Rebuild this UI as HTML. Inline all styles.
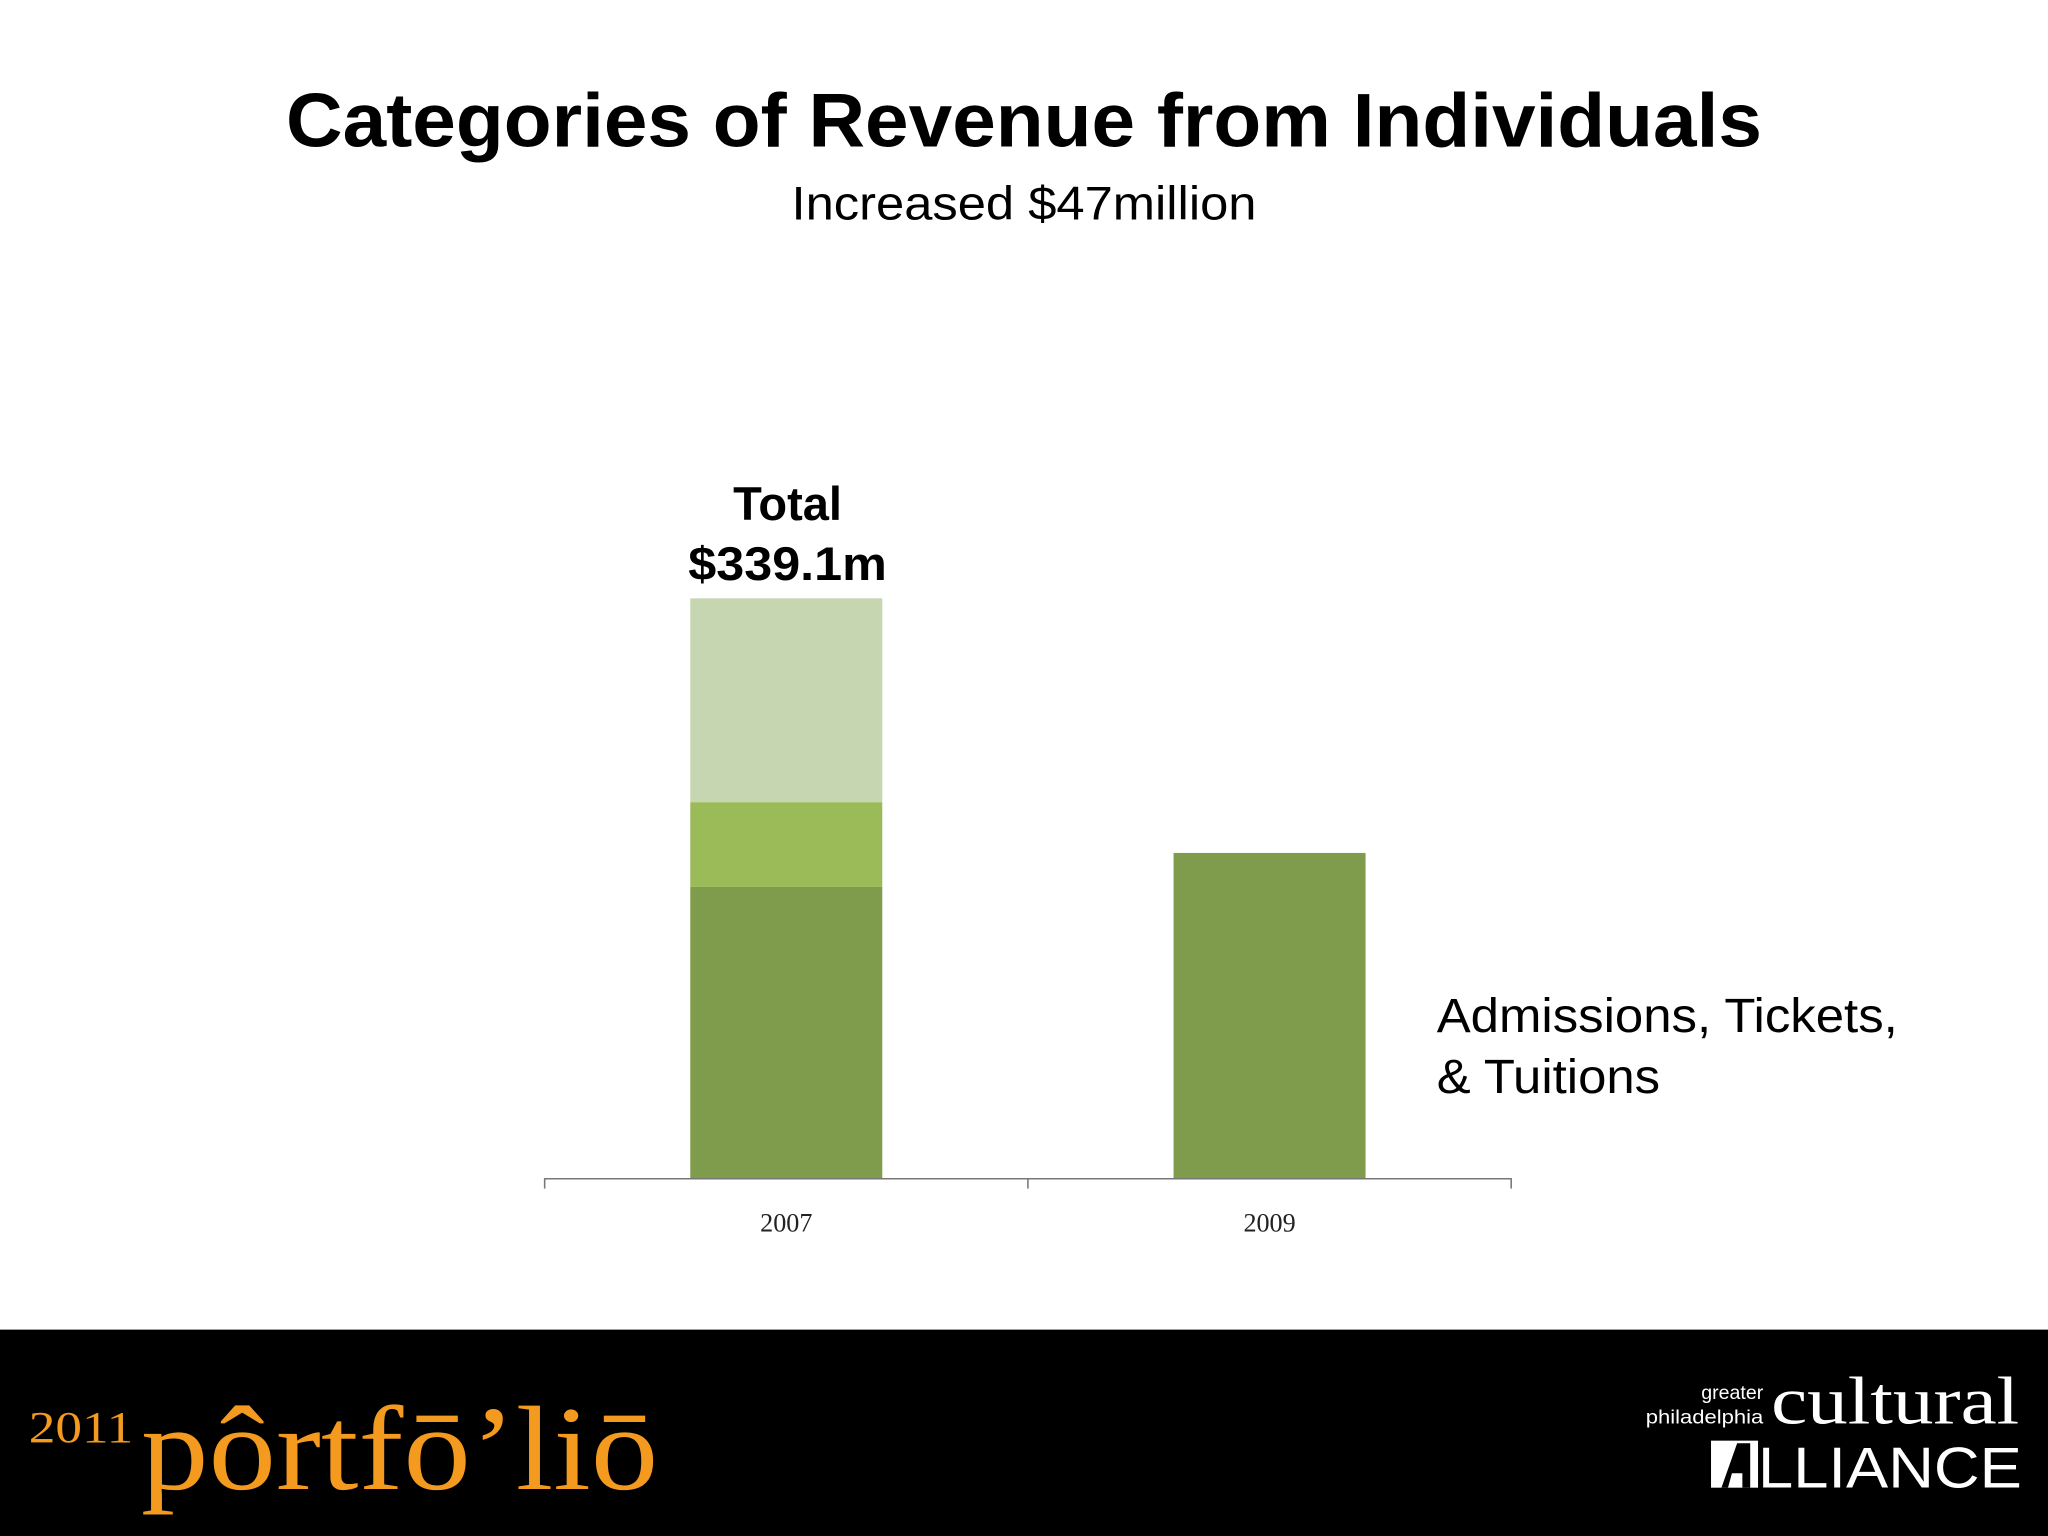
<!DOCTYPE html>
<html><head><meta charset="utf-8"><style>
html,body{margin:0;padding:0;background:#fff;}
svg{display:block;}
</style></head><body>
<svg id="chart" width="2048" height="1536" viewBox="0 0 1568 1176" xmlns="http://www.w3.org/2000/svg">
<rect x="0" y="0" width="1568" height="1176" fill="#fff"/>
<text x="784" y="112" text-anchor="middle" font-family="'Liberation Sans',sans-serif" font-weight="bold" font-size="58" textLength="1130" lengthAdjust="spacingAndGlyphs" fill="#000">Categories of Revenue from Individuals</text>
<text x="784" y="168" text-anchor="middle" font-family="'Liberation Sans',sans-serif" font-size="36" textLength="356" lengthAdjust="spacingAndGlyphs" fill="#000">Increased $47million</text>
<g id="plot"></g>
<text x="603" y="398" text-anchor="middle" font-family="'Liberation Sans',sans-serif" font-weight="bold" font-size="36" fill="#000">Total</text>
<text x="603" y="444" text-anchor="middle" font-family="'Liberation Sans',sans-serif" font-weight="bold" font-size="36" textLength="152" lengthAdjust="spacingAndGlyphs" fill="#000">$339.1m</text>
<text x="1100" y="790" font-family="'Liberation Sans',sans-serif" font-size="37" textLength="353" lengthAdjust="spacingAndGlyphs" fill="#000">Admissions, Tickets,</text>
<text x="1100" y="837" font-family="'Liberation Sans',sans-serif" font-size="37" textLength="171" lengthAdjust="spacingAndGlyphs" fill="#000">&amp; Tuitions</text>
<rect x="0" y="1018" width="1568" height="158" fill="#000"/>
<g fill="#f39a1f" font-family="'Liberation Serif',serif">
<text x="22" y="1104" font-size="34" textLength="80" lengthAdjust="spacingAndGlyphs">2011</text>
<text x="108" y="1140" font-size="92" textLength="396" lengthAdjust="spacingAndGlyphs">pôrtfō’liō</text>
</g>
<g fill="#fff">
<text x="1350" y="1071" text-anchor="end" font-family="'Liberation Sans',sans-serif" font-size="15">greater</text>
<text x="1350" y="1090" text-anchor="end" font-family="'Liberation Sans',sans-serif" font-size="15" textLength="90" lengthAdjust="spacingAndGlyphs">philadelphia</text>
<text x="1356" y="1090" font-family="'Liberation Serif',serif" font-size="52" textLength="190" lengthAdjust="spacingAndGlyphs">cultural</text>
<rect x="1310" y="1103" width="36" height="36" fill="#fff"/>
<polygon points="1318,1139 1330,1105 1340,1105 1340,1139 1334,1139 1334,1128 1326,1128 1323,1139" fill="#000"/>
<text x="1346" y="1139" font-family="'Liberation Sans',sans-serif" font-size="44" textLength="202" lengthAdjust="spacingAndGlyphs">LLIANCE</text>
</g>
</svg>
<script>
const categories = ["2007", "2009"];
const admissions = [170.3, 190.2];
const middleSeg = [49.6, 0];
const topSeg = [119.2, 0];

const NS = "http://www.w3.org/2000/svg";
const plot = document.getElementById("plot");
const baseY = 902, pxPerUnit = 1.309;
const axisL = 417, axisR = 1157;
const band = (axisR - axisL) / categories.length;
const barW = 147;
function yScale(v){ return baseY - v * pxPerUnit; }
function xCenter(i){ return axisL + band * (i + 0.5); }
const series = [
  {vals: admissions, color: "#7f9b4c", name: "admissions"},
  {vals: middleSeg, color: "#9bbb59", name: "middle"},
  {vals: topSeg, color: "#c6d6b0", name: "top"}
];
categories.forEach((c, i) => {
  let cum = 0;
  series.forEach(s => {
    const v = s.vals[i];
    if (v > 0) {
      const r = document.createElementNS(NS, "rect");
      r.setAttribute("x", xCenter(i) - barW / 2);
      r.setAttribute("y", yScale(cum + v));
      r.setAttribute("width", barW);
      r.setAttribute("height", v * pxPerUnit);
      r.setAttribute("fill", s.color);
      
      
      plot.appendChild(r);
    }
    cum += v;
  });
  const t = document.createElementNS(NS, "text");
  t.setAttribute("x", xCenter(i));
  t.setAttribute("y", 943);
  t.setAttribute("text-anchor", "middle");
  t.setAttribute("font-family", "'Liberation Serif',serif");
  t.setAttribute("font-size", "20");
  t.setAttribute("fill", "#222");
  t.textContent = c;
  
  
  plot.appendChild(t);
});
const axis = document.createElementNS(NS, "line");
axis.setAttribute("x1", axisL); axis.setAttribute("x2", axisR);
axis.setAttribute("y1", baseY + 0.5); axis.setAttribute("y2", baseY + 0.5);
axis.setAttribute("stroke", "#777"); axis.setAttribute("stroke-width", "1.2");


plot.appendChild(axis);
for (let i = 0; i <= categories.length; i++) {
  const tk = document.createElementNS(NS, "line");
  const x = axisL + band * i;
  tk.setAttribute("x1", x); tk.setAttribute("x2", x);
  tk.setAttribute("y1", baseY); tk.setAttribute("y2", baseY + 8);
  tk.setAttribute("stroke", "#777"); tk.setAttribute("stroke-width", "1.2");
  
  
  plot.appendChild(tk);
}
</script>
</body></html>
